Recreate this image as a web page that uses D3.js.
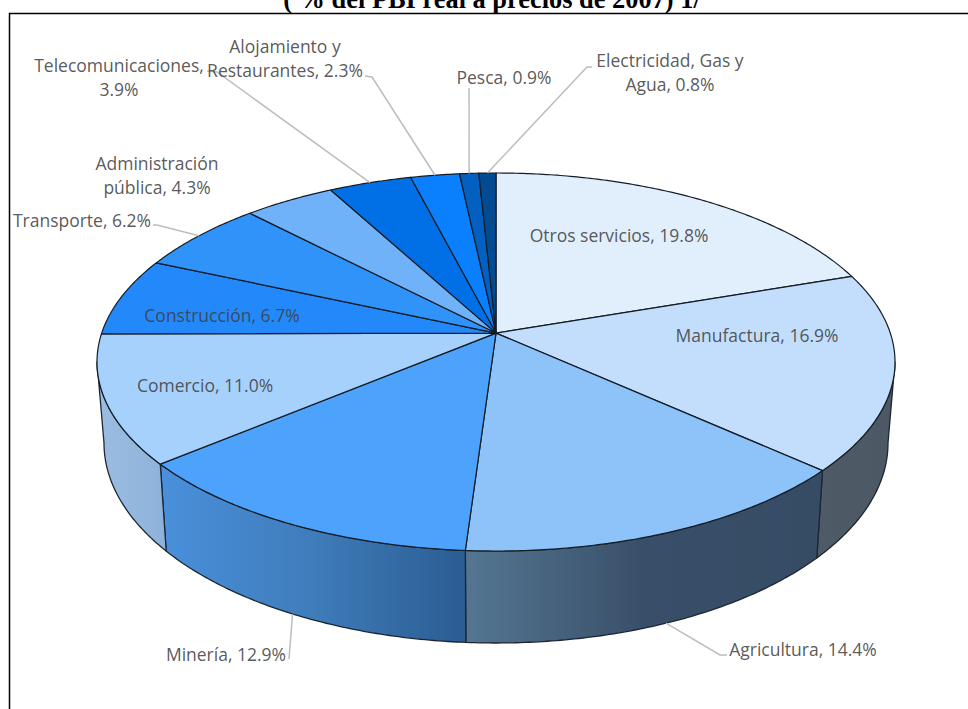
<!DOCTYPE html>
<html><head><meta charset="utf-8">
<script src="https://cdn.jsdelivr.net/npm/d3@7"></script>
<style>html,body{margin:0;padding:0;background:#fff;overflow:hidden}svg{display:block}</style>
</head><body><div id="chart"></div>
<script>
const categories=["Otros servicios","Manufactura","Agricultura","Minería","Comercio","Construcción","Transporte","Administración pública","Telecomunicaciones","Alojamiento y Restaurantes","Pesca","Electricidad, Gas y Agua"];
const shares=[19.8,16.9,14.4,12.9,11.0,6.7,6.2,4.3,3.9,2.3,0.9,0.8];
const topColors=["#e1eefb","#c2defc","#8ec3fa","#4da3fb","#a6d1fc","#2389fb","#3093fa","#70b2fa","#0170e6","#0a80ff","#0460c0","#024a92"];
const wallStops=[null,["#4e5a66","#4c5864"],["#547692","#394f69","#364c65"],["#4a90dc","#3f7cba","#2b5c92"],["#9cbde2","#8db2da"],["#2466b0","#2466b0"]];
const labelLines=[["Otros servicios, 19.8%"],["Manufactura, 16.9%"],["Agricultura, 14.4%"],["Minería, 12.9%"],["Comercio, 11.0%"],["Construcción, 6.7%"],["Transporte, 6.2%"],["Administración","pública, 4.3%"],["Telecomunicaciones,","3.9%"],["Alojamiento y","Restaurantes, 2.3%"],["Pesca, 0.9%"],["Electricidad, Gas y","Agua, 0.8%"]];
const labelPos=[[619,241.5],[757,341.5],[803,655.5],[226,660.5],[205,391.5],[222,321.5],[82,226.5],[157,169.5],[119,72],[285,53],[504,83.5],[670,67]];
const leaderBends=[null,null,[[720,655],[727,655]],[[289,659]],null,null,[[157,225],[153,225]],null,[[217,72],[207,71]],[[372,77],[365,76]],[[469,88]],[[587,67],[592,67]]];
const W=968,H=709;
const svg=d3.select("#chart").append("svg").attr("width",W).attr("height",H);
const defs=svg.append("defs");

const k=-0.153;
const topE={cx:496,cy:362,rx:399,ry:189};
const botE={cx:496,cy:443,rx:392,ry:200};
function proj(a,e){const x=Math.sin(a),y=-Math.cos(a),d=1+k*y;
  return [e.cx+e.rx*x*Math.sqrt(1-k*k)/d,e.cy+e.ry*(y+k)/d];}
const apex=[topE.cx,topE.cy+topE.ry*k];
const pie=d3.pie().sort(null).value(d=>d).startAngle(0).endAngle(2*Math.PI);
const arcs=pie(shares);
const line=d3.line();
function samples(a0,a1){const n=Math.max(2,Math.ceil((a1-a0)/0.01));return d3.range(n+1).map(i=>a0+(a1-a0)*i/n);}
const frontStart=Math.acos(k),frontEnd=2*Math.PI-Math.acos(k);

const g=svg.append("g");
// walls
arcs.forEach((d,i)=>{
  const a0=Math.max(d.startAngle,frontStart),a1=Math.min(d.endAngle,frontEnd);
  if(a1<=a0)return;
  const gid="wall"+i,stops=wallStops[i];
  const lg=defs.append("linearGradient").attr("id",gid).attr("x1",0).attr("x2",1).attr("y1",0).attr("y2",0);
  stops.forEach((c,j)=>lg.append("stop").attr("offset",j/(stops.length-1)).attr("stop-color",c));
  const s=samples(a0,a1);
  const pts=s.map(a=>proj(a,topE)).concat(s.slice().reverse().map(a=>proj(a,botE)));
  g.append("path").attr("d",line(pts)+"Z").attr("fill",`url(#${gid})`).attr("stroke","#1c2733").attr("stroke-width",1.3).attr("stroke-linejoin","round");
});
// top slices
arcs.forEach((d,i)=>{
  const pts=[apex].concat(samples(d.startAngle,d.endAngle).map(a=>proj(a,topE)));
  g.append("path").attr("d",line(pts)+"Z").attr("fill",topColors[i]).attr("stroke","#141c26").attr("stroke-width",1.2).attr("stroke-linejoin","round");
});
// leaders
arcs.forEach((d,i)=>{
  if(!leaderBends[i])return;
  const mid=(d.startAngle+d.endAngle)/2;
  const onFront=mid>frontStart&&mid<frontEnd;
  const start=proj(mid,onFront?botE:topE);
  svg.append("path").attr("d",line([start].concat(leaderBends[i]))).attr("fill","none").attr("stroke","#bdbdbd").attr("stroke-width",1.5);
});
// labels
arcs.forEach((d,i)=>{
  const t=svg.append("text").attr("text-anchor","middle").attr("font-family","'Open Sans',sans-serif").attr("font-size",17.5).attr("fill","#404040").attr("fill-opacity",0.87);
  labelLines[i].forEach((s,j)=>t.append("tspan").attr("x",labelPos[i][0]).attr("y",labelPos[i][1]+j*24).text(s));
});
// title and frame
svg.append("text").attr("x",492).attr("y",8).attr("text-anchor","middle").attr("font-family","'Liberation Serif',serif").attr("font-weight","bold").attr("font-size",26.4).attr("fill","#000").text("( % del PBI real a precios de 2007) 1/");
svg.append("path").attr("d",line([[9.5,H+5],[9.5,13.5],[W+5,13.5]])).attr("fill","none").attr("stroke","#000").attr("stroke-width",1.5);
</script></body></html>
